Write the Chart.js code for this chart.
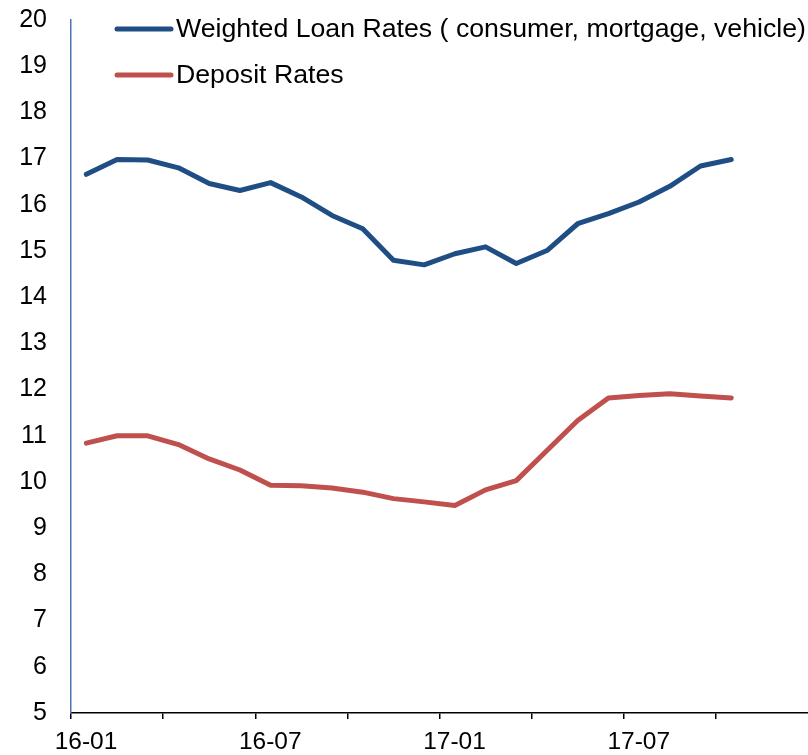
<!DOCTYPE html>
<html>
<head>
<meta charset="utf-8">
<script src="https://cdn.jsdelivr.net/npm/chart.js@4/dist/chart.umd.min.js"></script>
<style>
    html, body { margin: 0; padding: 0; background: #ffffff; overflow: hidden; }
    #wrap { width: 808px; height: 755px; position: relative; }
</style>
</head>
<body>
<div id="wrap"><canvas id="rateChart"></canvas></div>
<script>
// Monthly observations, Jan 2016 - Oct 2017
const months = ['16-01', '16-02', '16-03', '16-04', '16-05', '16-06', '16-07', '16-08', '16-09', '16-10', '16-11', '16-12',
    '17-01', '17-02', '17-03', '17-04', '17-05', '17-06', '17-07', '17-08', '17-09', '17-10'];
const loanRates = [16.66, 16.98, 16.97, 16.80, 16.46, 16.31, 16.48, 16.17, 15.77, 15.48, 14.80, 14.70,
    14.94, 15.09, 14.73, 15.01, 15.59, 15.81, 16.06, 16.40, 16.84, 16.98];
const depositRates = [10.84, 11.00, 11.00, 10.81, 10.50, 10.26, 9.93, 9.92, 9.87, 9.78, 9.64, 9.57,
    9.49, 9.83, 10.03, 10.68, 11.33, 11.82, 11.87, 11.91, 11.86, 11.82];
const xTickLabels = ['16-01', '16-07', '17-01', '17-07'];
const seriesNames = ['Weighted Loan Rates ( consumer, mortgage, vehicle)', 'Deposit Rates'];
const seriesColors = ['#1F4E85', '#C0504D'];

const FONT = 'Liberation Sans, Arial, sans-serif';

// month index -> x value, points sit in the middle of their month
const toPoints = values => values.map((v, i) => ({ x: i + 0.5, y: v }));

// legend drawn inside the plot, top left
const insideLegend = {
    id: 'insideLegend',
    afterDraw(chart) {
        const ctx = chart.ctx;
        ctx.save();
        chart.data.datasets.forEach((ds, i) => {
            const y = 29 + i * 46;
            ctx.strokeStyle = ds.borderColor;
            ctx.lineWidth = 5;
            ctx.lineCap = 'round';
            ctx.beginPath();
            ctx.moveTo(117, y);
            ctx.lineTo(171, y);
            ctx.stroke();
            ctx.fillStyle = '#000000';
            ctx.font = '26.7px ' + FONT;
            ctx.textAlign = 'left';
            ctx.textBaseline = 'middle';
            ctx.fillText(ds.label, 176, y + 1);
        });
        ctx.restore();
    }
};

new Chart(document.getElementById('rateChart'), {
    type: 'line',
    data: {
        datasets: [
            {
                label: seriesNames[0],
                data: toPoints(loanRates),
                borderColor: seriesColors[0],
                borderWidth: 5,
                borderCapStyle: 'round',
                borderJoinStyle: 'round',
                pointRadius: 0,
                tension: 0
            },
            {
                label: seriesNames[1],
                data: toPoints(depositRates),
                borderColor: seriesColors[1],
                borderWidth: 5,
                borderCapStyle: 'round',
                borderJoinStyle: 'round',
                pointRadius: 0,
                tension: 0
            }
        ]
    },
    options: {
        responsive: true,
        maintainAspectRatio: false,
        animation: false,
        layout: { padding: 0 },
        plugins: {
            legend: { display: false },
            tooltip: { enabled: false }
        },
        scales: {
            x: {
                type: 'linear',
                min: 0,
                max: 24,
                // a tick mark every quarter, a label every half year
                afterBuildTicks: scale => {
                    scale.ticks = [0, 3, 6, 9, 12, 15, 18, 21].map(v => ({ value: v }));
                },
                afterFit: scale => {
                    scale.height = 42;
                    scale.paddingLeft = 0;
                    scale.paddingRight = 0;
                },
                ticks: {
                    autoSkip: false,
                    maxRotation: 0,
                    labelOffset: 15,
                    padding: 11,
                    color: '#000000',
                    font: { family: FONT, size: 24.5, lineHeight: 1 },
                    callback: value => (value % 6 === 0) ? xTickLabels[value / 6] : ''
                },
                grid: { drawOnChartArea: false, drawTicks: true, tickLength: 6, color: '#000000', lineWidth: 1.5 },
                border: { display: true, color: '#000000', width: 1.5 }
            },
            y: {
                min: 5,
                max: 20,
                afterFit: scale => {
                    scale.width = 71;
                    scale.paddingTop = 20;
                    scale.paddingBottom = 0;
                },
                ticks: {
                    stepSize: 1,
                    padding: 24,
                    color: '#000000',
                    font: { family: FONT, size: 25 }
                },
                grid: { display: false, drawTicks: false },
                border: { display: true, color: '#4F74B3', width: 1.5 }
            }
        }
    },
    plugins: [insideLegend]
});
</script>
</body>
</html>
